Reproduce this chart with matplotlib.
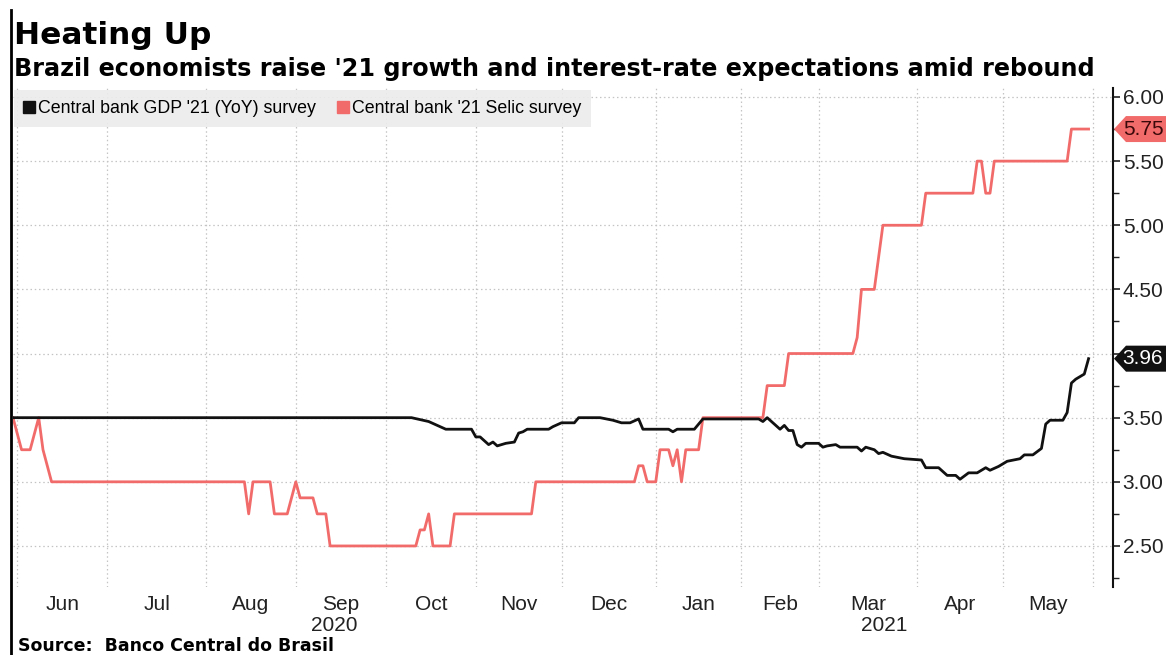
import matplotlib
matplotlib.use('Agg')
import matplotlib.pyplot as plt
from matplotlib.lines import Line2D
from matplotlib.patches import Polygon
import numpy as np
import pandas as pd


# Brazilian market holidays inside the plotted window (x axis runs on business days)
HOLIDAYS = ['2020-06-11', '2020-09-07', '2020-10-12', '2020-11-02', '2020-12-25',
            '2021-01-01', '2021-02-15', '2021-02-16', '2021-04-02', '2021-04-21']

gdp_dates = ['2020-05-29', '2020-10-09', '2020-10-16', '2020-10-22', '2020-10-30',
             '2020-11-03', '2020-11-04', '2020-11-06', '2020-11-09', '2020-11-10',
             '2020-11-12', '2020-11-16', '2020-11-17', '2020-11-18', '2020-11-19',
             '2020-11-26', '2020-11-27', '2020-12-01', '2020-12-04', '2020-12-07',
             '2020-12-14', '2020-12-17', '2020-12-21', '2020-12-23', '2020-12-28',
             '2020-12-29', '2021-01-07', '2021-01-08', '2021-01-11', '2021-01-15',
             '2021-01-19', '2021-02-05', '2021-02-08', '2021-02-09', '2021-02-12',
             '2021-02-17', '2021-02-18', '2021-02-19', '2021-02-22', '2021-02-23',
             '2021-02-24', '2021-03-01', '2021-03-02', '2021-03-03', '2021-03-05',
             '2021-03-08', '2021-03-12', '2021-03-15', '2021-03-16', '2021-03-18',
             '2021-03-19', '2021-03-22', '2021-03-24', '2021-03-29', '2021-04-05',
             '2021-04-06', '2021-04-09', '2021-04-13', '2021-04-15', '2021-04-16',
             '2021-04-20', '2021-04-23', '2021-04-27', '2021-04-28', '2021-04-30',
             '2021-05-04', '2021-05-07', '2021-05-10', '2021-05-12', '2021-05-14',
             '2021-05-17', '2021-05-18', '2021-05-21', '2021-05-24', '2021-05-25',
             '2021-05-26', '2021-05-28', '2021-05-31']
gdp_values = [3.50, 3.50, 3.47, 3.41, 3.41, 3.35, 3.35, 3.29, 3.31, 3.28,
              3.30, 3.31, 3.38, 3.39, 3.41, 3.41, 3.43, 3.46, 3.46, 3.50,
              3.50, 3.48, 3.46, 3.46, 3.49, 3.41, 3.41, 3.39, 3.41, 3.41,
              3.49, 3.49, 3.47, 3.50, 3.41, 3.44, 3.40, 3.40, 3.29, 3.27,
              3.30, 3.30, 3.27, 3.28, 3.29, 3.27, 3.27, 3.24, 3.27, 3.25,
              3.22, 3.23, 3.20, 3.18, 3.17, 3.11, 3.11, 3.05, 3.05, 3.02,
              3.07, 3.07, 3.11, 3.09, 3.12, 3.16, 3.18, 3.21, 3.21, 3.26,
              3.45, 3.48, 3.48, 3.54, 3.77, 3.80, 3.84, 3.96]

selic_dates = ['2020-05-29', '2020-06-02', '2020-06-04', '2020-06-08', '2020-06-09',
               '2020-06-10', '2020-06-12', '2020-08-14', '2020-08-17', '2020-08-18',
               '2020-08-24', '2020-08-25', '2020-08-28', '2020-09-01', '2020-09-02',
               '2020-09-08', '2020-09-09', '2020-09-11', '2020-09-14', '2020-10-13',
               '2020-10-14', '2020-10-15', '2020-10-16', '2020-10-19', '2020-10-23',
               '2020-10-26', '2020-11-20', '2020-11-23', '2020-12-24', '2020-12-28',
               '2020-12-29', '2020-12-30', '2021-01-04', '2021-01-05', '2021-01-07',
               '2021-01-08', '2021-01-11', '2021-01-12', '2021-01-13', '2021-01-18',
               '2021-01-19', '2021-02-08', '2021-02-09', '2021-02-17', '2021-02-18',
               '2021-03-11', '2021-03-12', '2021-03-15', '2021-03-18', '2021-03-22',
               '2021-04-05', '2021-04-06', '2021-04-22', '2021-04-23', '2021-04-26',
               '2021-04-27', '2021-04-28', '2021-04-29', '2021-05-24', '2021-05-25',
               '2021-05-31']
selic_values = [3.50, 3.25, 3.25, 3.50, 3.25, 3.125, 3.00, 3.00, 2.75, 3.00,
                3.00, 2.75, 2.75, 3.00, 2.875, 2.875, 2.75, 2.75, 2.50, 2.50,
                2.625, 2.625, 2.75, 2.50, 2.50, 2.75, 2.75, 3.00, 3.00, 3.125,
                3.125, 3.00, 3.00, 3.25, 3.25, 3.125, 3.25, 3.00, 3.25, 3.25,
                3.50, 3.50, 3.75, 3.75, 4.00, 4.00, 4.125, 4.50, 4.50, 5.00,
                5.00, 5.25, 5.25, 5.50, 5.50, 5.25, 5.25, 5.50, 5.50, 5.75,
                5.75]

MONTH_LABELS = ['Jun', 'Jul', 'Aug', 'Sep', 'Oct', 'Nov', 'Dec',
                'Jan', 'Feb', 'Mar', 'Apr', 'May']
YEAR_LABELS = ['2020', '2021']
Y_TICKS = [2.50, 3.00, 3.50, 4.00, 4.50, 5.00, 5.50, 6.00]

TITLE = 'Heating Up'
SUBTITLE = "Brazil economists raise '21 growth and interest-rate expectations amid rebound"
SOURCE = 'Source:  Banco Central do Brasil'
GDP_LABEL = "Central bank GDP '21 (YoY) survey"
SELIC_LABEL = "Central bank '21 Selic survey"

RED = '#f26b6b'
BLACK = '#111111'
GRID = '#c4c4c4'
TICK_FONT = ['Liberation Sans', 'DejaVu Sans']

# business-day calendar -> integer position on the x axis
days = pd.bdate_range('2020-05-29', '2021-06-30', freq='C', holidays=HOLIDAYS)
pos = pd.Series(np.arange(len(days), dtype=float), index=days)


def to_pos(dates):
    return pos[pd.to_datetime(dates)].values


month_first = pos.groupby(days.to_period('M')).min()
month_first = month_first[month_first.index >= pd.Period('2020-06', 'M')]
month_mid = (month_first.values[:-1] + month_first.values[1:]) / 2
jan_2021 = month_first[pd.Period('2021-01', 'M')]

W, H = 1166, 655
fig = plt.figure(figsize=(W / 100, H / 100), dpi=100)
ax = fig.add_axes([13 / W, 1 - 587 / H, 1100 / W, 499 / H])

ax.plot(to_pos(selic_dates), selic_values, color=RED, lw=2.0, zorder=3)
ax.plot(to_pos(gdp_dates), gdp_values, color=BLACK, lw=2.0, zorder=4)

x_right = pos['2021-06-01'] + 4.7
ax.set_xlim(0, x_right)
ax.set_ylim(2.18, 6.07)

# month gridlines on the first business day, labels in the middle of each month
ax.set_xticks(month_first.values)
ax.set_xticklabels([])
ax.set_xticks(month_mid, minor=True)
ax.set_xticklabels(MONTH_LABELS, minor=True, family=TICK_FONT, fontsize=15)
ax.tick_params(axis='x', which='both', length=0)
ax.tick_params(axis='x', which='minor', pad=6, colors='#222222')

year_pos = [(0 + jan_2021) / 2, (jan_2021 + x_right) / 2]
for xp, yr in zip(year_pos, YEAR_LABELS):
    ax.text(xp, -0.058, yr, transform=ax.get_xaxis_transform(), ha='center', va='top',
            family=TICK_FONT, fontsize=15, color='#222222')

# right-hand scale; a tick label hidden under a last-value tag is left blank
last_values = [selic_values[-1], gdp_values[-1]]
y_labels = ['' if min(abs(v - lv) for lv in last_values) < 0.1 else f'{v:.2f}'
            for v in Y_TICKS]
ax.yaxis.tick_right()
ax.set_yticks(Y_TICKS)
ax.set_yticklabels(y_labels, family=TICK_FONT, fontsize=15)
ax.set_yticks(np.arange(2.25, 6.01, 0.25), minor=True)
ax.tick_params(axis='y', which='major', direction='out', length=5, width=1.2, pad=2,
               colors='#222222')
ax.tick_params(axis='y', which='minor', direction='out', length=4, width=1.0,
               colors='#222222')

ax.grid(True, which='major', axis='both', linestyle=(0, (1.2, 2.2)), color=GRID, lw=0.9)
ax.set_axisbelow(True)

for side in ['top', 'left', 'bottom']:
    ax.spines[side].set_visible(False)
ax.spines['right'].set_linewidth(1.5)
ax.spines['right'].set_color('#111111')

# legend with square swatches on a light grey band
handles = [Line2D([], [], marker='s', color=BLACK, linestyle='none', markersize=9),
           Line2D([], [], marker='s', color=RED, linestyle='none', markersize=9)]
leg = ax.legend(handles, [GDP_LABEL, SELIC_LABEL], loc='upper left', bbox_to_anchor=(0.001, 0.996),
                ncol=2, frameon=True, fancybox=False, borderaxespad=0, handlelength=0.6,
                handletextpad=0.2, columnspacing=1.2, borderpad=0.55,
                prop={'family': TICK_FONT, 'size': 12.8})
leg.get_frame().set_facecolor('#ececec')
leg.get_frame().set_edgecolor('none')
leg.get_frame().set_alpha(0.9)


# last-value tags sitting on the right axis
def value_tag(value, face, text_color):
    y_disp = ax.transData.transform((0, value))[1]
    yc = fig.transFigure.inverted().transform((0, y_disp))[1]
    x0 = 1114 / W
    x1 = 1126 / W
    x2 = 1.0
    hh = 13 / H
    tag = Polygon([(x0, yc), (x1, yc + hh), (x2, yc + hh), (x2, yc - hh), (x1, yc - hh)],
                  closed=True, transform=fig.transFigure, facecolor=face,
                  edgecolor='none', zorder=5)
    fig.patches.append(tag)
    fig.text(1143 / W, yc, f'{value:.2f}', ha='center', va='center', color=text_color,
             family=TICK_FONT, fontsize=15, zorder=6)


value_tag(selic_values[-1], RED, '#3a0808')
value_tag(gdp_values[-1], BLACK, 'white')

# titles, source line and the black rule down the left edge
fig.text(14 / W, 1 - 44 / H, TITLE, fontsize=22.5, fontweight='bold', color='black')
fig.text(14 / W, 1 - 76 / H, SUBTITLE, fontsize=17.2, fontweight='bold', color='black')
fig.text(18 / W, 1 - 651 / H, SOURCE, fontsize=12.5, fontweight='bold', color='black')
fig.lines.append(Line2D([11 / W, 11 / W], [0, 1 - 10 / H], transform=fig.transFigure,
                        color='black', lw=2))

fig.savefig('out.png', dpi=100, facecolor='white')
